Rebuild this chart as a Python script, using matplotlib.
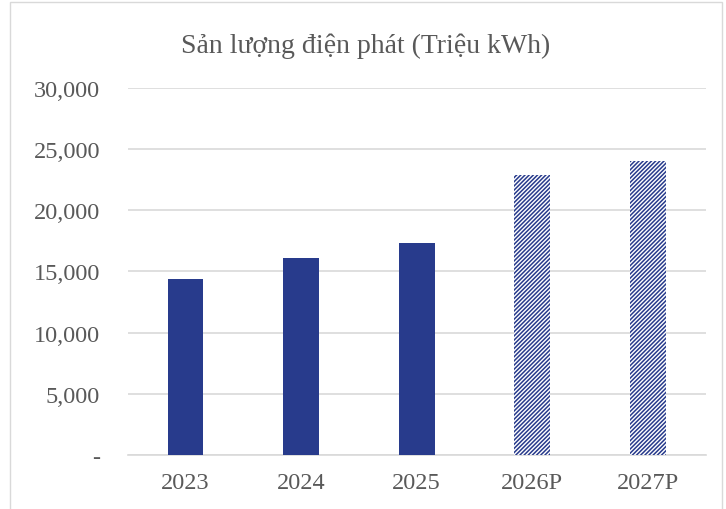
import matplotlib.pyplot as plt
from matplotlib.patches import Rectangle
from matplotlib.ticker import FuncFormatter

years = ["2023", "2024", "2025", "2026P", "2027P"]
output = [14400, 16050, 17350, 22900, 24000]
forecast = [False, False, False, True, True]

navy = "#283B8C"
grey_text = "#595959"
grid_grey = "#D9D9D9"

plt.rcParams["font.family"] = ["Liberation Serif", "DejaVu Serif"]
plt.rcParams["hatch.linewidth"] = 1.1

fig = plt.figure(figsize=(7.26, 5.10), dpi=100)
ax = fig.add_axes([0.176, 0.106, 0.796, 0.72])

x = range(len(years))
for i, (v, p) in enumerate(zip(output, forecast)):
    if p:
        ax.bar(i, v, width=0.31, color="white", edgecolor=navy, hatch="////////",
               linewidth=0, zorder=3)
    else:
        ax.bar(i, v, width=0.31, color=navy, zorder=3)

ax.set_ylim(0, 30000)
ax.set_xlim(-0.5, len(years) - 0.5)
ax.set_yticks(range(0, 30001, 5000))
ax.yaxis.set_major_formatter(FuncFormatter(lambda v, _: "-" if v == 0 else f"{int(v):,}"))
ax.set_xticks(list(x))
ax.set_xticklabels(years)

ax.grid(axis="y", color=grid_grey, linewidth=1.2, zorder=0)
for s in ["top", "right", "left"]:
    ax.spines[s].set_visible(False)
ax.spines["bottom"].set_color(grid_grey)
ax.spines["bottom"].set_linewidth(1.2)
ax.tick_params(axis="both", length=0, labelsize=17.5, colors=grey_text)
ax.tick_params(axis="y", pad=20)
ax.tick_params(axis="x", pad=12)

fig.text(0.503, 0.91, "Sản lượng điện phát (Triệu kWh)", ha="center", va="center",
         fontsize=20, color=grey_text)

# outer chart frame
fig.patches.append(Rectangle((0.014, -0.01), 0.98, 1.004, transform=fig.transFigure,
                             fill=False, edgecolor=grid_grey, linewidth=1.0))

fig.savefig("out.png", dpi=100)
